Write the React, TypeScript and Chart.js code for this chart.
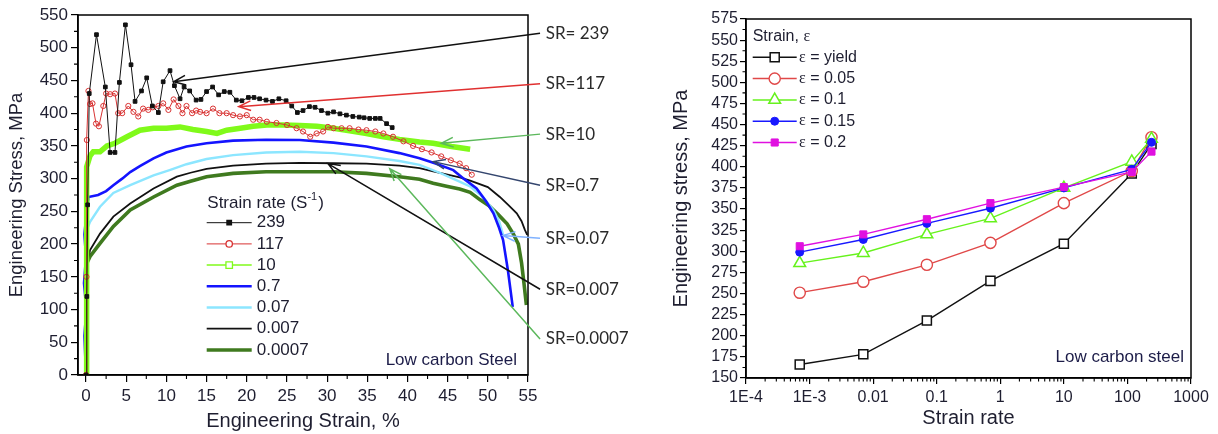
import React, { useEffect, useRef } from 'react';
import { Chart, registerables } from 'chart.js';
Chart.register(...registerables);

const SANS = '"Liberation Sans", Arial, sans-serif';
const SERIF = '"Liberation Serif", "Times New Roman", serif';
const CAL = 'Lato, "Open Sans", sans-serif';

// ---------------- Left panel data (Engineering strain %, stress MPa) ----------------
const sr239Strain = [0, 0.1, 0.2, 0.4, 1.3, 2.4, 3.0, 3.6, 4.15, 4.9, 5.6, 6.1, 6.9, 7.55, 8.25, 9.0, 9.6, 10.45, 11.0, 11.7, 12.2, 12.9, 13.7, 14.3, 15.0, 15.75, 16.5, 17.2, 17.9, 18.7, 19.4, 20.2, 20.9, 21.6, 22.4, 23.2, 24.0, 24.9, 25.6, 26.3, 27.0, 27.8, 28.5, 29.3, 30.1, 30.8, 31.6, 32.4, 33.2, 34.0, 34.6, 35.3, 36.0, 36.6, 37.4, 38.1];
const sr239Stress = [0, 120, 260, 430, 520, 440, 340, 340, 447, 535, 474, 418, 434, 454, 411, 401, 448, 465, 442, 422, 440, 434, 420, 421, 433, 440, 428, 433, 432, 420, 419, 424, 424, 422, 420, 418, 422, 419, 411, 401, 404, 410, 409, 404, 400, 402, 399, 397, 395, 394, 393, 392, 392, 392, 384, 378];

const sr117Strain = [0, 0.05, 0.1, 0.3, 0.5, 0.8, 1.24, 1.6, 2.15, 2.5, 3.0, 3.6, 4.0, 4.5, 5.26, 5.9, 6.5, 7.1, 7.75, 8.3, 9.0, 9.6, 10.25, 10.9, 11.5, 12.0, 12.5, 13.2, 13.7, 14.2, 15.0, 15.8, 16.6, 17.5, 18.3, 19.15, 20.0, 20.8, 21.6, 22.5, 23.7, 25.0, 26.2, 27.0, 27.9, 28.7, 29.5, 30.1, 30.8, 31.8, 32.8, 33.9, 34.9, 36.0, 37.0, 38.2, 39.5, 40.7, 41.8, 43.0, 44.2, 45.4, 46.5, 47.3, 48.0];
const sr117Stress = [0, 150, 359, 434, 414, 415, 384, 380, 411, 430, 429, 430, 400, 400, 411, 402, 395, 407, 405, 409, 411, 415, 405, 421, 411, 400, 411, 400, 404, 402, 400, 407, 400, 400, 397, 395, 397, 390, 390, 387, 385, 382, 377, 372, 364, 369, 372, 379, 377, 377, 377, 375, 374, 372, 369, 364, 357, 350, 345, 340, 334, 328, 323, 316, 306];

const sr10Strain = [0, 0.05, 0.1, 0.5, 0.9, 1.74, 2.6, 3.6, 5.1, 6.7, 8.4, 10.0, 11.7, 13.3, 15.0, 16.3, 17.5, 19.2, 20.8, 22.5, 24.5, 26.6, 28.7, 30.8, 32.8, 34.9, 37.0, 39.0, 41.5, 43.2, 45.5, 47.8];
const sr10Stress = [0, 200, 318, 335, 341, 341, 350, 354, 364, 374, 377, 377, 379, 375, 372, 369, 374, 377, 380, 382, 382, 381, 380, 377, 373, 369, 364, 360, 356, 354, 349, 345];

const sr07Strain = [0, -0.2, 0.05, -0.25, 0.0, -0.2, 0.1, 0.3, 1.5, 2.5, 3.4, 4.5, 5.5, 6.7, 8.4, 10.0, 12.5, 15.0, 18.3, 22.4, 26.6, 30.8, 34.9, 39.0, 41.5, 43.5, 45.7, 47.0, 48.6, 49.8, 50.7, 51.4, 51.9, 52.5, 53.1];
const sr07Stress = [0, 60, 100, 140, 180, 215, 250, 272, 275, 281, 290, 300, 310, 319, 331, 340, 349, 354, 358, 359.5, 359, 355, 349, 339, 331, 323, 313, 300, 285, 265, 247, 225, 206, 160, 104];

const sr007Strain = [0, 0.05, 0.1, 0.5, 1.74, 3.4, 5.5, 8.4, 10.4, 12.5, 15.0, 18.3, 22.4, 26.6, 30.8, 34.9, 39.0, 41.5, 44.0, 46.0, 47.8, 49.3, 50.7, 51.4, 51.9];
const sr007Stress = [0, 120, 221, 234, 257, 278, 290, 305, 313, 322, 330, 336, 340, 341, 339, 334, 327, 321, 309, 298, 288, 273, 252, 235, 214];

const sr0007Strain = [0, 0.05, 0.1, 0.5, 1.74, 3.4, 5.5, 8.4, 11.3, 13.0, 15.0, 18.3, 22.4, 26.6, 30.8, 34.9, 39.0, 41.5, 43.2, 45.0, 46.5, 47.8, 50.0, 51.5, 52.6, 53.6, 54.2, 54.6, 54.9];
const sr0007Stress = [0, 90, 165, 191, 216, 242, 262, 285, 303, 309, 315, 320, 323, 324, 323.5, 323, 320, 316, 311, 306, 302, 297, 287, 272, 259, 247, 235, 222, 214];

const sr00007Strain = [0, 0.05, 0.1, 0.5, 1.74, 3.4, 5.5, 8.4, 11.3, 13.0, 15.0, 18.3, 22.4, 26.6, 30.8, 34.9, 39.0, 41.5, 43.2, 45.0, 46.5, 47.8, 49.0, 50.2, 51.3, 52.4, 53.2, 53.8, 54.2, 54.5, 54.8];
const sr00007Stress = [0, 90, 170, 181, 201, 227, 252, 272, 290, 296, 303, 308, 310.5, 310.5, 310.5, 308, 303, 299, 293, 288, 284, 279, 268, 258, 245, 231, 215, 200, 171, 140, 107];

const leftLegendLabels = ['239', '117', '10', '0.7', '0.07', '0.007', '0.0007'];
const leftXTicks = [0, 5, 10, 15, 20, 25, 30, 35, 40, 45, 50, 55];
const leftYTicks = [0, 50, 100, 150, 200, 250, 300, 350, 400, 450, 500, 550];

// annotation labels ("SR=...") on the right of the left panel
const srLabels = ['SR= 239', 'SR=117', 'SR=10', 'SR=0.7', 'SR=0.07', 'SR=0.007', 'SR=0.0007'];
const srLabelStress = [522, 445, 368, 290, 209, 131, 55];
const srTipStrain = [10.9, 19.0, 44.2, 43.2, 51.9, 30.1, 37.8];
const srTipStress = [448, 410, 354, 326, 213, 323, 315];

// ---------------- Right panel data ----------------
const strainRates = [0.0007, 0.007, 0.07, 0.7, 10, 117, 239];
const stressYield = [166, 178, 218, 265, 309, 392, 427];
const stress005 = [251, 264, 284, 310, 357, 395, 435];
const stress01 = [286, 298, 320, 339, 375, 406, 433];
const stress015 = [299, 314, 333, 351, 375, 397, 429];
const stress02 = [306, 320, 338, 357, 376, 394, 418];
const rightLegendLabels = ['yield', '0.05', '0.1', '0.15', '0.2'];
const rightXTicks = [1e-4, 1e-3, 0.01, 0.1, 1, 10, 100, 1000];
const rightXTickLabels = ['1E-4', '1E-3', '0.01', '0.1', '1', '10', '100', '1000'];
const rightYTicks = [150, 175, 200, 225, 250, 275, 300, 325, 350, 375, 400, 425, 450, 475, 500, 525, 550, 575];

const TEXT = '#1e1e30';

function pts(xs: number[], ys: number[]) {
  return xs.map((x, i) => ({ x, y: ys[i] }));
}

function drawMarker(ctx: CanvasRenderingContext2D, style: string, cx: number, cy: number, r: number, stroke: string, fill: string | null, lw: number) {
  ctx.save();
  ctx.lineWidth = lw;
  ctx.strokeStyle = stroke;
  ctx.beginPath();
  if (style === 'rect') {
    const h = r * Math.SQRT1_2;
    ctx.rect(cx - h, cy - h, 2 * h, 2 * h);
  } else if (style === 'circle') {
    ctx.arc(cx, cy, r, 0, Math.PI * 2);
  } else if (style === 'triangle') {
    let rad = 0;
    ctx.moveTo(cx + Math.sin(rad) * r, cy - Math.cos(rad) * r);
    rad += (2 * Math.PI) / 3;
    ctx.lineTo(cx + Math.sin(rad) * r, cy - Math.cos(rad) * r);
    rad += (2 * Math.PI) / 3;
    ctx.lineTo(cx + Math.sin(rad) * r, cy - Math.cos(rad) * r);
    ctx.closePath();
  }
  if (fill) {
    ctx.fillStyle = fill;
    ctx.fill();
  }
  ctx.stroke();
  ctx.restore();
}

function minorTicks(chart: any, axis: string, values: number[], len: number) {
  const { ctx, chartArea: a } = chart;
  const s = chart.scales[axis];
  ctx.save();
  ctx.strokeStyle = '#000';
  ctx.lineWidth = 1.1;
  ctx.beginPath();
  values.forEach((v) => {
    const p = s.getPixelForValue(v);
    if (axis === 'x') {
      ctx.moveTo(p, a.bottom);
      ctx.lineTo(p, a.bottom + len);
    } else {
      ctx.moveTo(a.left, p);
      ctx.lineTo(a.left - len, p);
    }
  });
  ctx.stroke();
  ctx.restore();
}

const leftStyles = [
  { color: '#111111', width: 1, marker: 'rect', mr: 2.6, mfill: '#111111' },
  { color: '#d83232', width: 1, marker: 'circle', mr: 2.6, mfill: null },
  { color: '#80fa1a', width: 5.5, marker: 'rect', mr: 4, mfill: '#ffffff' },
  { color: '#1414ff', width: 2.6, marker: '', mr: 0, mfill: null },
  { color: '#8ce6ff', width: 2.4, marker: '', mr: 0, mfill: null },
  { color: '#111111', width: 1.8, marker: '', mr: 0, mfill: null },
  { color: '#3f7a1f', width: 3.6, marker: '', mr: 0, mfill: null },
];
const srColors = ['#111111', '#e03030', '#5cb85c', '#34466e', '#80b2ff', '#111111', '#5cb85c'];

const rightStyles = [
  { color: '#111111', marker: 'rect', mr: 6.4, fill: '#ffffff', bw: 1.5 },
  { color: '#e04848', marker: 'circle', mr: 5.6, fill: '#ffffff', bw: 1.4 },
  { color: '#66f21c', marker: 'triangle', mr: 6.8, fill: '#ffffff', bw: 1.5 },
  { color: '#1818ff', marker: 'circle', mr: 4, fill: '#1818ff', bw: 1 },
  { color: '#e010e0', marker: 'rect', mr: 5, fill: '#e010e0', bw: 1 },
];

const leftDecor = {
  id: 'leftDecor',
  afterDraw(chart: any) {
    const { ctx, chartArea: a } = chart;
    const x = chart.scales.x;
    const y = chart.scales.y;
    ctx.save();
    ctx.strokeStyle = '#000';
    ctx.lineWidth = 1.5;
    ctx.strokeRect(a.left, a.top, a.right - a.left, a.bottom - a.top);
    minorTicks(chart, 'x', leftXTicks.slice(0, -1).map((v) => v + 2.5), 4);
    minorTicks(chart, 'y', leftYTicks.slice(0, -1).map((v) => v + 25), 4);

    // SR annotations with arrows
    srLabels.forEach((lab, i) => {
      const lx = x.getPixelForValue(56.5);
      const ly = y.getPixelForValue(srLabelStress[i]);
      const tx = x.getPixelForValue(srTipStrain[i]);
      const ty = y.getPixelForValue(srTipStress[i]);
      ctx.strokeStyle = srColors[i];
      ctx.lineWidth = 1.5;
      ctx.beginPath();
      ctx.moveTo(lx, ly);
      ctx.lineTo(tx, ty);
      const ang = Math.atan2(ly - ty, lx - tx);
      const L = 13;
      ctx.moveTo(tx + L * Math.cos(ang + 0.38), ty + L * Math.sin(ang + 0.38));
      ctx.lineTo(tx, ty);
      ctx.lineTo(tx + L * Math.cos(ang - 0.38), ty + L * Math.sin(ang - 0.38));
      ctx.stroke();
      ctx.fillStyle = '#2a2a2a';
      ctx.font = '17px ' + CAL;
      ctx.textAlign = 'left';
      ctx.textBaseline = 'middle';
      ctx.fillText(lab, x.getPixelForValue(57.2), ly);
    });

    // legend
    const lx0 = a.left + 128.7;
    const lx1 = a.left + 173.7;
    ctx.fillStyle = TEXT;
    ctx.textBaseline = 'middle';
    ctx.textAlign = 'left';
    ctx.font = '17px ' + SANS;
    const tY = a.top + 188;
    const t1 = 'Strain rate (S';
    ctx.fillText(t1, a.left + 129.3, tY);
    const w1 = ctx.measureText(t1).width;
    ctx.font = '11px ' + SANS;
    ctx.fillText('-1', a.left + 129.3 + w1, tY - 6);
    const w2 = ctx.measureText('-1').width;
    ctx.font = '17px ' + SANS;
    ctx.fillText(')', a.left + 129.3 + w1 + w2 + 1, tY);
    leftLegendLabels.forEach((lab, i) => {
      const st = leftStyles[i];
      const yy = a.top + 207.7 + i * 21.2;
      ctx.strokeStyle = st.color;
      ctx.lineWidth = Math.min(st.width, 3.5);
      if (i === 2) ctx.lineWidth = 1.5;
      ctx.beginPath();
      ctx.moveTo(lx0, yy);
      ctx.lineTo(lx1, yy);
      ctx.stroke();
      if (st.marker) {
        drawMarker(ctx, st.marker, (lx0 + lx1) / 2, yy, st.mr + 0.6, st.color, st.mfill ?? '#ffffff', 1.3);
      }
      ctx.fillStyle = TEXT;
      ctx.font = '17px ' + SANS;
      ctx.fillText(lab, a.left + 178.7, yy);
    });

    ctx.fillStyle = '#1c1c48';
    ctx.font = '17px ' + SANS;
    ctx.textAlign = 'right';
    ctx.textBaseline = 'alphabetic';
    ctx.fillText('Low carbon Steel', a.right - 11, a.bottom - 10);
    ctx.restore();
  },
};

const rightMinorX: number[] = [];
[1e-4, 1e-3, 1e-2, 1e-1, 1, 10, 100].forEach((d) => {
  for (let k = 2; k <= 9; k++) rightMinorX.push(d * k);
});

const rightDecor = {
  id: 'rightDecor',
  afterDraw(chart: any) {
    const { ctx, chartArea: a } = chart;
    ctx.save();
    ctx.strokeStyle = '#000';
    ctx.lineWidth = 1.5;
    ctx.strokeRect(a.left, a.top, a.right - a.left, a.bottom - a.top);
    minorTicks(chart, 'x', rightMinorX, 3.5);
    minorTicks(chart, 'y', rightYTicks.slice(0, -1).map((v) => v + 12.5), 3.5);

    ctx.textBaseline = 'middle';
    ctx.textAlign = 'left';
    ctx.fillStyle = TEXT;
    ctx.font = '16px ' + SANS;
    const t = 'Strain, ';
    ctx.fillText(t, a.left + 6.7, a.top + 17.7);
    const tw = ctx.measureText(t).width;
    ctx.font = '16px ' + SERIF;
    ctx.fillText('ε', a.left + 6.7 + tw, a.top + 17.7);
    const lx0 = a.left + 6.7;
    const lx1 = a.left + 50.7;
    rightLegendLabels.forEach((lab, i) => {
      const st = rightStyles[i];
      const yy = a.top + 38.3 + i * 21.3;
      ctx.strokeStyle = st.color;
      ctx.lineWidth = 1.5;
      ctx.beginPath();
      ctx.moveTo(lx0, yy);
      ctx.lineTo(lx1, yy);
      ctx.stroke();
      drawMarker(ctx, st.marker, (lx0 + lx1) / 2, yy, st.mr, st.color, st.fill, st.bw);
      ctx.fillStyle = TEXT;
      ctx.font = '16px ' + SERIF;
      ctx.fillText('ε', a.left + 53, yy);
      const ew = ctx.measureText('ε').width;
      ctx.font = '16px ' + SANS;
      ctx.fillText(' = ' + lab, a.left + 53 + ew, yy);
    });

    ctx.fillStyle = '#1c1c48';
    ctx.font = '17px ' + SANS;
    ctx.textAlign = 'right';
    ctx.textBaseline = 'alphabetic';
    ctx.fillText('Low carbon steel', a.right - 7, a.bottom - 16);
    ctx.restore();
  },
};

export default function App() {
  const leftRef = useRef<HTMLCanvasElement>(null);
  const rightRef = useRef<HTMLCanvasElement>(null);

  useEffect(() => {
    const leftSeries = [
      pts(sr239Strain, sr239Stress),
      pts(sr117Strain, sr117Stress),
      pts(sr10Strain, sr10Stress),
      pts(sr07Strain, sr07Stress),
      pts(sr007Strain, sr007Stress),
      pts(sr0007Strain, sr0007Stress),
      pts(sr00007Strain, sr00007Stress),
    ];
    const leftChart = new Chart(leftRef.current as HTMLCanvasElement, {
      type: 'line',
      data: {
        datasets: leftSeries.map((d, i) => {
          const st = leftStyles[i];
          const withMarks = i < 2;
          return {
            label: leftLegendLabels[i],
            data: d,
            borderColor: st.color,
            borderWidth: st.width,
            backgroundColor: st.color,
            pointStyle: st.marker || 'circle',
            pointRadius: withMarks ? st.mr : 0,
            pointBorderWidth: 1,
            pointBorderColor: st.color,
            pointBackgroundColor: i === 0 ? st.color : 'rgba(255,255,255,0)',
            tension: 0,
            fill: false,
          };
        }),
      },
      options: {
        responsive: false,
        maintainAspectRatio: false,
        animation: false,
        devicePixelRatio: 1,
        events: [],
        layout: { padding: { left: 0, top: 15, right: 112, bottom: 0 } },
        plugins: { legend: { display: false }, tooltip: { enabled: false } },
        scales: {
          x: {
            type: 'linear',
            min: -1,
            max: 55,
            afterBuildTicks: (s: any) => {
              s.ticks = leftXTicks.map((v) => ({ value: v }));
            },
            afterFit: (s: any) => {
              s.height = 59;
            },
            ticks: { autoSkip: false, maxRotation: 0, minRotation: 0, padding: 4, color: TEXT, font: { family: SANS, size: 17 } },
            grid: { display: true, drawOnChartArea: false, drawTicks: true, tickLength: 7, color: '#000', lineWidth: 1.2 },
            border: { display: true, color: '#000', width: 1.5 },
            title: { display: true, text: 'Engineering Strain, %', color: TEXT, font: { family: SANS, size: 20 }, padding: { top: 0, bottom: 1 } },
          },
          y: {
            type: 'linear',
            min: 0,
            max: 550,
            afterBuildTicks: (s: any) => {
              s.ticks = leftYTicks.map((v) => ({ value: v }));
            },
            afterFit: (s: any) => {
              s.width = 78;
            },
            ticks: { autoSkip: false, padding: 3, color: TEXT, font: { family: SANS, size: 17 } },
            grid: { display: true, drawOnChartArea: false, drawTicks: true, tickLength: 7, color: '#000', lineWidth: 1.2 },
            border: { display: true, color: '#000', width: 1.5 },
            title: { display: true, text: 'Engineering Stress, MPa', color: TEXT, font: { family: SANS, size: 18.5 }, padding: { top: 6, bottom: 0 } },
          },
        },
      },
      plugins: [leftDecor],
    } as any);

    const rightSeries = [stressYield, stress005, stress01, stress015, stress02];
    const rightChart = new Chart(rightRef.current as HTMLCanvasElement, {
      type: 'line',
      data: {
        datasets: rightSeries.map((vals, i) => {
          const st = rightStyles[i];
          return {
            label: rightLegendLabels[i],
            data: pts(strainRates, vals),
            borderColor: st.color,
            borderWidth: 1.4,
            pointStyle: st.marker,
            pointRadius: st.mr,
            pointBorderWidth: st.bw,
            pointBorderColor: st.color,
            pointBackgroundColor: st.fill,
            order: 5 - i,
            tension: 0,
            fill: false,
          };
        }),
      },
      options: {
        responsive: false,
        maintainAspectRatio: false,
        animation: false,
        devicePixelRatio: 1,
        events: [],
        layout: { padding: { left: 0, top: 19, right: 27, bottom: 0 } },
        plugins: { legend: { display: false }, tooltip: { enabled: false } },
        scales: {
          x: {
            type: 'logarithmic',
            min: 1e-4,
            max: 1000,
            afterBuildTicks: (s: any) => {
              s.ticks = rightXTicks.map((v) => ({ value: v }));
            },
            afterFit: (s: any) => {
              s.height = 56;
            },
            ticks: {
              autoSkip: false,
              maxRotation: 0,
              minRotation: 0,
              padding: 4,
              color: TEXT,
              font: { family: SANS, size: 16 },
              callback: (_v: any, i: number) => rightXTickLabels[i],
            },
            grid: { display: true, drawOnChartArea: false, drawTicks: true, tickLength: 6, color: '#000', lineWidth: 1.2 },
            border: { display: true, color: '#000', width: 1.5 },
            title: { display: true, text: 'Strain rate', color: TEXT, font: { family: SANS, size: 20 }, padding: { top: 0, bottom: 4 } },
          },
          y: {
            type: 'linear',
            min: 150,
            max: 575,
            afterBuildTicks: (s: any) => {
              s.ticks = rightYTicks.map((v) => ({ value: v }));
            },
            afterFit: (s: any) => {
              s.width = 96;
            },
            ticks: { autoSkip: false, padding: 2, color: TEXT, font: { family: SANS, size: 16 } },
            grid: { display: true, drawOnChartArea: false, drawTicks: true, tickLength: 6, color: '#000', lineWidth: 1.2 },
            border: { display: true, color: '#000', width: 1.5 },
            title: { display: true, text: 'Engineering stress, MPa', color: TEXT, font: { family: SANS, size: 20 }, padding: { top: 19, bottom: 0 } },
          },
        },
      },
      plugins: [rightDecor],
    } as any);

    return () => {
      leftChart.destroy();
      rightChart.destroy();
    };
  }, []);

  return (
    <div style={{ position: 'fixed', left: 0, top: 0, width: 1218, height: 434, background: '#ffffff', overflow: 'hidden' }}>
      <canvas ref={leftRef} width={640} height={434} style={{ position: 'absolute', left: 0, top: 0, width: 640, height: 434 }} />
      <canvas ref={rightRef} width={568} height={434} style={{ position: 'absolute', left: 650, top: 0, width: 568, height: 434 }} />
    </div>
  );
}
